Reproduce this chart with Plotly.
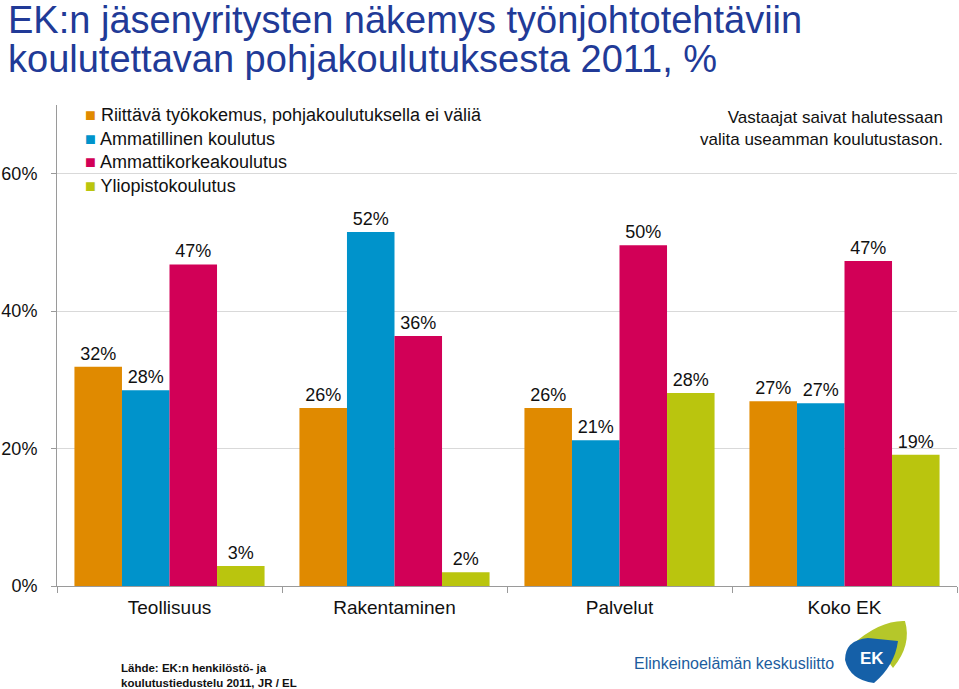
import plotly.graph_objects as go

categories = ["Teollisuus", "Rakentaminen", "Palvelut", "Koko EK"]
series_names = [
    "Riittävä työkokemus, pohjakoulutuksella ei väliä",
    "Ammatillinen koulutus",
    "Ammattikorkeakoulutus",
    "Yliopistokoulutus",
]
riittava = [31.9, 25.9, 25.9, 26.9]
ammatillinen = [28.5, 51.5, 21.2, 26.6]
amk = [46.8, 36.4, 49.6, 47.3]
yliopisto = [2.9, 2.0, 28.1, 19.1]
colors = ["#E08A00", "#0093CB", "#D20057", "#BAC50E"]
y_ticks = [0, 20, 40, 60]
y_tick_labels = ["0%", "20%", "40%", "60%"]
title_lines = ["EK:n jäsenyritysten näkemys työnjohtotehtäviin",
               "koulutettavan pohjakoulutuksesta 2011, %"]

FONT = "Liberation Sans, Arial, sans-serif"

# plot area in pixels: x 57..957, y 105..586
L, R, T, B = 57, 957, 105, 586
def px(x):
    return (x - L) / (R - L)
def py(y):
    return (B - y) / (B - T)

fig = go.Figure()
for name, vals, col in zip(series_names, [riittava, ammatillinen, amk, yliopisto], colors):
    fig.add_trace(go.Bar(
        name=name, x=categories, y=vals, marker=dict(color=col, line=dict(width=0)),
        text=[f"{v:.0f}%" for v in vals],
        textposition="outside", cliponaxis=False,
        textfont=dict(size=18, color="#111111", family=FONT),
        hoverinfo="skip", showlegend=False,
    ))

fig.update_layout(
    width=959, height=689,
    paper_bgcolor="white", plot_bgcolor="white",
    margin=dict(l=L, r=959 - R, t=T, b=689 - B),
    barmode="group", bargap=0.155, bargroupgap=0,
    font=dict(family=FONT, color="#111111"),
    showlegend=False,
    xaxis=dict(
        showline=True, linecolor="#9a9a9a", linewidth=1,
        ticks="outside", tickson="boundaries", ticklen=6, tickcolor="#9a9a9a",
        tickfont=dict(size=19, family=FONT, color="#111111"),
        showgrid=False, automargin=False, ticklabelstandoff=4,
    ),
    yaxis=dict(
        range=[0, 70], tickvals=y_ticks, ticktext=y_tick_labels,
        showline=True, linecolor="#9a9a9a", linewidth=1,
        ticks="outside", ticklen=5, tickcolor="#9a9a9a",
        showgrid=True, gridcolor="#d9d9d9", gridwidth=1, zeroline=False,
        tickfont=dict(size=18, family=FONT, color="#111111"),
        ticklabelstandoff=10, automargin=False,
    ),
)

# title (two lines, tight spacing)
for i, line in enumerate(title_lines):
    fig.add_annotation(
        text=line, xref="paper", yref="paper", x=px(6), y=py(20 + 39 * i),
        xanchor="left", yanchor="middle", showarrow=False,
        font=dict(size=38, color="#213A97", family=FONT),
    )

# legend drawn as text rows
for i, (name, col) in enumerate(zip(series_names, colors)):
    fig.add_annotation(
        text=f"<span style='color:{col}'>■</span> {name}",
        xref="paper", yref="paper", x=px(83), y=py(115 + 23.7 * i),
        xanchor="left", yanchor="middle", showarrow=False,
        font=dict(size=18, color="#111111", family=FONT),
    )

fig.add_annotation(
    text="Vastaajat saivat halutessaan<br>valita useamman koulutustason.",
    xref="paper", yref="paper", x=px(945), y=py(106), xanchor="right", yanchor="top",
    showarrow=False, align="right", font=dict(size=17, color="#111111", family=FONT),
)

fig.add_annotation(
    text="<b>Lähde: EK:n henkilöstö- ja<br>koulutustiedustelu 2011, JR / EL</b>",
    xref="paper", yref="paper", x=px(119), y=py(660),
    xanchor="left", yanchor="top", showarrow=False, align="left",
    font=dict(size=11.5, color="#111111", family="Liberation Sans Narrow, " + FONT),
)

# logo text
fig.add_annotation(
    text="Elinkeinoelämän keskusliitto",
    xref="paper", yref="paper", x=px(836), y=py(663),
    xanchor="right", yanchor="middle", showarrow=False,
    font=dict(size=16, color="#1C5C9E", family=FONT),
)
# logo shapes (decorative)
def pt(x, y):
    return f"{px(x):.4f},{py(y):.4f}"
green_path = (f"M {pt(852,645)} Q {pt(880,620)} {pt(905,621)} "
              f"Q {pt(912,645)} {pt(893,668)} L {pt(880,650)} Z")
blue_path = (f"M {pt(845,660)} Q {pt(845,640)} {pt(868,638)} L {pt(898,641)} "
             f"Q {pt(895,665)} {pt(874,683)} Q {pt(850,680)} {pt(845,660)} Z")
fig.add_shape(type="path", xref="paper", yref="paper", path=green_path,
              fillcolor="#B5C72A", line=dict(width=0), layer="above")
fig.add_shape(type="path", xref="paper", yref="paper", path=blue_path,
              fillcolor="#1560A8", line=dict(width=0), layer="above")
fig.add_annotation(
    text="<b>EK</b>", xref="paper", yref="paper", x=px(872), y=py(658),
    xanchor="center", yanchor="middle", showarrow=False,
    font=dict(size=17, color="white", family=FONT),
)

fig.write_html("out.html", config={"displayModeBar": False},
               post_script="document.body.style.margin='0px';document.body.style.overflow='hidden';")
